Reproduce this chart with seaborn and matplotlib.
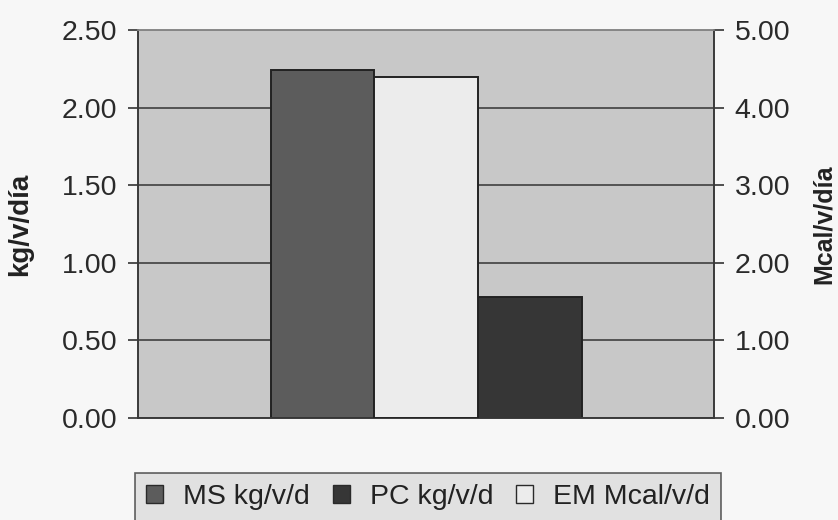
import matplotlib
matplotlib.use("Agg")
import matplotlib.pyplot as plt
import seaborn as sns
import pandas as pd
import numpy as np
from matplotlib.patches import Patch

# Data
series = ["MS kg/v/d", "EM Mcal/v/d", "PC kg/v/d"]
left_values = [2.24, np.nan, 0.78]      # kg/v/día (left axis)
right_values = [np.nan, 4.40, np.nan]   # Mcal/v/día (right axis)
legend_order = ["MS kg/v/d", "PC kg/v/d", "EM Mcal/v/d"]
left_ticks = [0.0, 0.5, 1.0, 1.5, 2.0, 2.5]
right_ticks = [0.0, 1.0, 2.0, 3.0, 4.0, 5.0]

colors = {"MS kg/v/d": "#5c5c5c", "EM Mcal/v/d": "#ececec", "PC kg/v/d": "#363636"}

df_left = pd.DataFrame({"serie": series, "valor": left_values})
df_right = pd.DataFrame({"serie": series, "valor": right_values})

sns.set_style("white")
plt.rcParams["font.family"] = ["Liberation Sans", "DejaVu Sans"]

fig = plt.figure(figsize=(8.38, 5.2), dpi=100, facecolor="#f7f7f7")
ax = fig.add_axes([138/838, 1-418/520, (714-138)/838, (418-30)/520])
ax.set_facecolor("#c8c8c8")

sns.barplot(data=df_left, x="serie", y="valor", hue="serie", order=series,
            hue_order=series, palette=colors, width=1.0, ax=ax,
            edgecolor="#222222", linewidth=1.4, legend=False, zorder=3)
ax2 = ax.twinx()
sns.barplot(data=df_right, x="serie", y="valor", hue="serie", order=series,
            hue_order=series, palette=colors, width=1.0, ax=ax2,
            edgecolor="#222222", linewidth=1.4, legend=False, zorder=3)

span = 3 * 576 / 311
ax.set_xlim(1 - span/2, 1 + span/2)
ax2.set_xlim(1 - span/2, 1 + span/2)
ax.set_ylim(0, 2.5)
ax2.set_ylim(0, 5.0)
ax.set_yticks(left_ticks)
ax.set_yticklabels([f"{t:.2f}" for t in left_ticks])
ax2.set_yticks(right_ticks)
ax2.set_yticklabels([f"{t:.2f}" for t in right_ticks])
ax.set_xticks([])
ax2.set_xticks([])
ax.set_xlabel("")
ax2.set_xlabel("")

ax.yaxis.grid(True, color="#4a4a4a", linewidth=1.3, zorder=1)
ax.set_axisbelow(True)

for a in (ax, ax2):
    a.tick_params(axis="y", direction="out", length=7, width=1.2, color="#333333",
                  labelsize=20.5, labelcolor="#2a2a2a", pad=8)
    for s in a.spines.values():
        s.set_color("#3a3a3a")
        s.set_linewidth(1.2)
    a.spines["top"].set_color("#888888")

ax.set_ylabel("kg/v/día", fontsize=20, fontweight="bold", color="#222222")
ax.yaxis.set_label_coords((33-138)/576, 0.5)
ax2.set_ylabel("Mcal/v/día", fontsize=18, fontweight="bold", color="#222222", rotation=90)
ax2.yaxis.set_label_coords((812-138)/576, 0.5)

handles = [Patch(facecolor=colors[s], edgecolor="#2a2a2a", label=s) for s in legend_order]
leg = fig.legend(handles=handles, loc="upper center", bbox_to_anchor=(428/838, 1-473/520),
                 ncol=3, frameon=True, fontsize=20.5, handlelength=0.6, handleheight=0.6,
                 handletextpad=0.7, columnspacing=0.8, borderpad=0.4, borderaxespad=0,
                 fancybox=False)
leg.get_frame().set_facecolor("#dcdcdc")
leg.get_frame().set_edgecolor("#3a3a3a")
leg.get_frame().set_linewidth(1.2)
for t in leg.get_texts():
    t.set_color("#222222")

fig.savefig("out.png", dpi=100, facecolor=fig.get_facecolor())
